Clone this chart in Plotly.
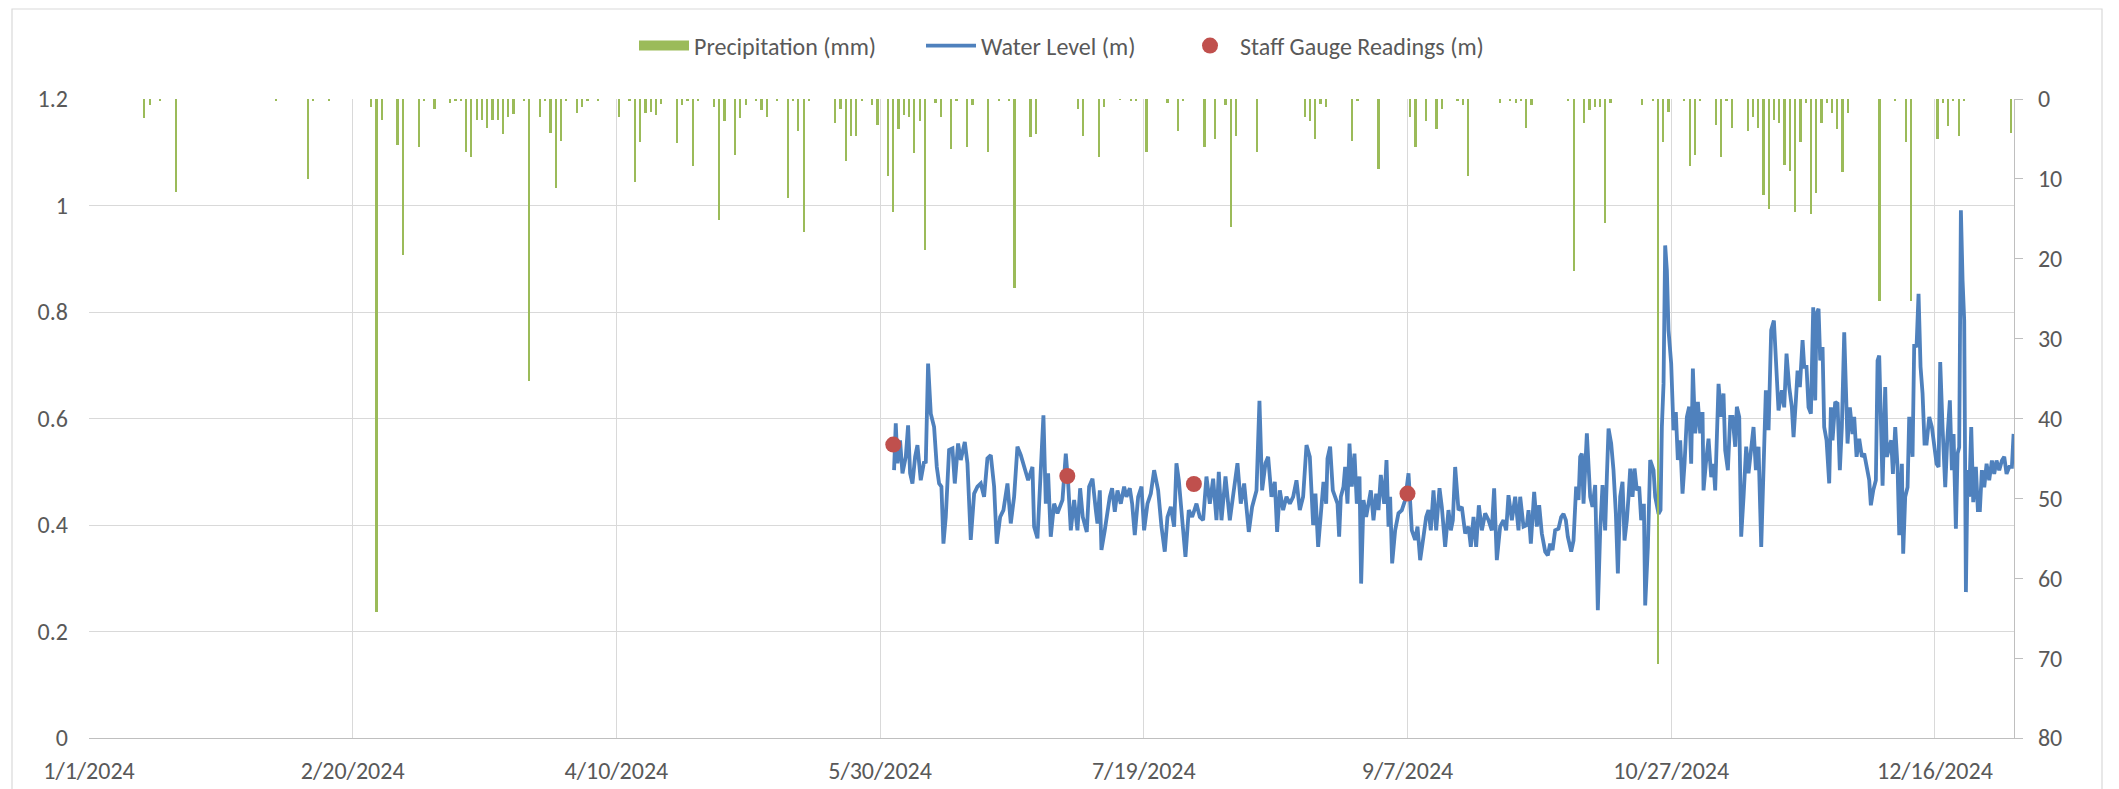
import pandas as pd
import plotly.graph_objects as go

BASE = pd.Timestamp("2024-01-01")

# ---- Daily precipitation (day-of-year offset from 1/1/2024, mm) ----
precip_day = [10, 11, 13, 16, 35, 41, 42, 45, 53, 54, 55, 58, 59, 62, 63, 65, 68, 69, 70, 71,
              72, 73, 74, 75, 76, 77, 78, 79, 80, 82, 83, 85, 86, 87, 88, 89, 90, 92, 93, 94,
              96, 100, 102, 103, 104, 105, 106, 107, 108, 111, 112, 113, 114, 115, 118, 119, 120, 122, 123, 124,
              126, 127, 128, 130, 132, 133, 134, 135, 136, 141, 142, 143, 144, 145, 146, 148, 149, 151, 152, 153,
              154, 155, 156, 157, 158, 160, 161, 163, 164, 166, 167, 170, 172, 174, 175, 178, 179, 187, 188, 191,
              192, 195, 197, 198, 200, 204, 206, 207, 211, 213, 215, 216, 217, 221, 230, 231, 232, 233, 234, 239,
              240, 244, 250, 251, 253, 255, 256, 259, 260, 261, 267, 269, 270, 271, 272, 273, 280, 281, 283, 284,
              285, 286, 287, 288, 294, 296, 297, 298, 299, 302, 303, 304, 305, 308, 309, 310, 311, 314, 315, 316,
              317, 318, 319, 320, 321, 322, 323, 324, 325, 326, 327, 328, 329, 330, 331, 332, 333, 339, 342, 344,
              345, 350, 351, 352, 353, 354, 355, 364]
precip_mm = [2.4, 0.75, 0.2, 11.6, 0.2, 10.0, 0.2, 0.2, 1.0, 64.2, 2.6, 5.8, 19.5, 6.0, 0.2, 1.2, 0.5, 0.2, 0.3, 6.6,
             7.3, 2.6, 2.6, 3.6, 2.6, 2.6, 4.4, 2.2, 1.9, 0.2, 35.3, 2.2, 0.3, 4.2, 11.2, 5.2, 0.2, 1.7, 1.0, 0.2,
             0.2, 2.2, 0.3, 10.4, 5.4, 1.7, 1.6, 2.0, 0.6, 5.5, 0.8, 0.2, 8.4, 0.3, 1.0, 15.2, 2.8, 7.0, 2.4, 0.75,
             0.2, 1.4, 2.2, 0.2, 12.4, 0.2, 4.0, 16.7, 0.2, 3.0, 1.2, 7.75, 4.6, 4.6, 0.2, 0.75, 3.3, 9.6, 14.2, 3.8,
             2.0, 2.2, 6.8, 2.75, 18.9, 0.5, 2.2, 6.2, 0.2, 6.0, 0.75, 6.6, 0.2, 0.2, 23.7, 4.8, 4.4, 1.2, 4.6, 7.2,
             1.0, 0.1, 0.2, 0.3, 6.6, 0.5, 4.0, 0.2, 6.0, 5.0, 0.75, 16.0, 4.6, 6.6, 2.2, 2.75, 5.0, 0.6, 1.0, 5.2,
             0.3, 8.8, 2.2, 6.0, 2.75, 3.8, 1.2, 0.3, 0.75, 9.6, 0.5, 0.2, 0.5, 0.2, 3.6, 0.75, 0.3, 21.5, 3.0, 1.4,
             1.0, 1.0, 15.5, 0.5, 0.75, 0.3, 70.7, 5.4, 1.6, 0.2, 8.4, 7.0, 0.3, 3.2, 7.2, 0.2, 3.6, 4.0, 2.3, 3.6,
             12.0, 13.8, 2.6, 3.0, 8.2, 9.0, 14.2, 5.4, 0.5, 14.4, 11.8, 3.0, 0.5, 1.7, 3.8, 9.2, 1.8, 25.3, 0.2, 5.4,
             25.3, 5.0, 0.5, 3.4, 0.2, 4.6, 0.3, 4.2]

# ---- Water level (fractional day-of-year offset, m) ----
wl_day = [152.65, 152.97, 153.29, 153.79, 154.24, 154.87, 155.31, 155.69, 156.13, 156.64, 157.08, 157.71, 158.34, 158.66,
          159.10, 159.61, 160.24, 160.75, 161.19, 161.63, 162.01, 162.45, 163.08, 163.72, 164.16, 164.79, 165.30, 166.06,
          166.56, 167.19, 167.83, 168.46, 169.09, 169.72, 170.35, 170.99, 171.62, 172.12, 172.76, 173.39, 174.15, 174.78,
          175.41, 176.04, 176.68, 177.43, 178.07, 178.89, 179.20, 179.84, 180.47, 180.97, 181.42, 181.86, 182.36, 183.00,
          183.63, 184.58, 185.21, 185.66, 186.16, 186.79, 187.42, 187.93, 188.43, 189.19, 189.63, 190.27, 190.90,
          191.21, 191.66, 191.97, 192.60, 193.11, 193.55, 193.99, 194.50, 195.01, 195.64, 196.27, 196.71, 197.35, 197.79,
          198.29, 198.93, 199.56, 200.06, 200.70, 201.33, 201.96, 202.72, 203.35, 203.98, 204.49, 205.12, 205.75, 206.19,
          206.64, 207.27, 207.90, 208.53, 209.17, 209.99, 210.62, 211.25, 211.88, 212.52, 213.15, 213.78, 214.22, 214.73,
          215.49, 216.31, 216.94, 217.76, 218.39, 219.03, 219.91, 220.54, 221.37, 221.93, 222.44, 223.07, 223.58, 224.21,
          224.84, 225.28, 225.79, 226.42, 227.05, 227.69, 228.32, 228.95, 229.58, 230.21, 230.85, 231.48, 232.11, 232.55,
          233.06,
          233.75, 234.07, 234.58, 234.83, 235.33, 235.84, 236.28, 236.73, 237.04, 237.36, 237.86, 238.18, 238.62, 239.00,
          239.44, 239.95, 240.39, 240.90, 241.21, 241.66, 242.16, 242.60, 243.05, 243.55, 244.06, 244.50, 244.94, 245.58,
          246.02, 246.40, 246.71, 247.09, 247.66, 248.29, 248.93, 249.56, 250.19, 250.82, 251.45, 251.90, 252.40, 253.03,
          253.54, 253.98, 254.42, 254.93, 255.44, 256.07, 256.51, 257.14, 257.77, 258.22, 258.60, 259.04, 259.67, 260.30,
          260.94, 261.57, 262.01, 262.52, 263.02, 263.53, 264.10, 264.73, 265.36, 265.99, 266.43, 266.94, 267.57, 268.20,
          268.71, 269.15, 269.79, 270.42, 271.05, 271.37, 272.00, 272.63, 272.95, 273.39, 274.02, 274.53, 274.97, 275.47,
          276.11,
          276.61, 277.05, 277.50, 278.00, 278.63, 279.14, 279.58, 280.03, 280.40, 281.04, 281.48, 281.98, 282.43, 282.74,
          283.06, 283.38, 284.01, 284.32, 284.64, 285.08, 285.59, 286.09, 286.54, 286.98, 287.48, 287.80, 288.12, 288.62,
          289.06, 289.51, 289.89, 290.33, 290.77, 291.15, 291.59, 291.91, 292.23, 292.67, 293.05, 293.49, 293.93, 294.31,
          294.82, 295.07, 295.58, 296.02, 296.65, 296.97, 297.60, 297.98, 298.23, 298.55, 298.86, 299.18, 299.49, 300.00,
          300.44, 300.88, 301.26, 301.71, 302.15, 302.53, 302.97, 303.41, 303.79, 304.11, 304.55, 305.06, 305.50, 305.94,
          306.13, 306.57, 307.08, 307.59, 308.03, 308.34, 308.98, 309.48, 309.92, 310.24, 310.75, 311.19, 311.63, 312.14,
          312.45, 312.90, 313.27, 313.72, 314.22, 314.66, 315.17, 315.61, 316.06, 316.56, 317.07, 317.51, 317.95, 318.46,
          318.96, 319.47, 319.85, 320.35,
          320.99, 321.43, 321.87, 322.38, 322.88, 323.20, 323.64, 323.96, 324.40, 324.91, 325.22, 325.66, 326.04, 326.49,
          326.93, 327.31, 327.56, 327.94, 328.26, 328.70, 329.01, 329.46, 329.96, 330.28, 330.59, 331.10, 331.54, 331.98,
          332.36, 332.81, 333.12, 333.44, 333.88, 334.39, 334.70, 335.15, 335.65, 336.16, 336.60, 337.04, 337.55, 337.86,
          338.31, 338.81, 339.13, 339.44, 339.76, 340.08, 340.58, 340.90, 341.34, 341.72, 342.04, 342.48, 342.92, 343.24,
          343.74, 343.99, 344.37, 344.82, 345.13, 345.51, 345.76, 346.08, 346.52, 346.90, 347.28, 347.66, 348.04, 348.42,
          348.93, 349.43, 349.87, 350.32, 350.70, 351.01, 351.45, 351.96, 352.34, 352.84, 353.22, 353.54, 353.98, 354.30,
          354.61, 354.93, 355.25, 355.56, 355.88, 356.19, 356.51, 356.89, 357.27, 357.77, 358.15, 358.53, 358.91, 359.36,
          359.80, 360.30, 360.81, 361.25, 361.69, 362.20, 362.71, 363.15, 363.59, 364.10, 364.60, 364.92]
wl_m = [0.503, 0.591, 0.516, 0.559, 0.497, 0.528, 0.587, 0.497, 0.478, 0.528, 0.550, 0.484, 0.519, 0.516,
        0.703, 0.609, 0.584, 0.509, 0.478, 0.472, 0.365, 0.415, 0.541, 0.544, 0.478, 0.553, 0.522, 0.556,
        0.516, 0.372, 0.459, 0.472, 0.478, 0.453, 0.525, 0.531, 0.472, 0.365, 0.415, 0.428, 0.478, 0.403,
        0.453, 0.547, 0.531, 0.503, 0.484, 0.509, 0.397, 0.375, 0.509, 0.606, 0.440, 0.497, 0.378, 0.440,
        0.422, 0.447, 0.534, 0.478, 0.390, 0.447, 0.390, 0.469, 0.415, 0.387, 0.472, 0.487, 0.428,
        0.403, 0.465, 0.353, 0.390, 0.428, 0.453, 0.469, 0.425, 0.465, 0.440, 0.472, 0.453, 0.469, 0.440,
        0.381, 0.453, 0.472, 0.390, 0.440, 0.459, 0.503, 0.465, 0.397, 0.350, 0.415, 0.434, 0.397, 0.516,
        0.484, 0.415, 0.340, 0.428, 0.415, 0.440, 0.415, 0.409, 0.491, 0.440, 0.487, 0.409, 0.500, 0.409,
        0.491, 0.409, 0.453, 0.516, 0.440, 0.478, 0.387, 0.434, 0.465, 0.633, 0.465, 0.516, 0.528, 0.453,
        0.481, 0.387, 0.465, 0.428, 0.453, 0.440, 0.453, 0.484, 0.428, 0.453, 0.550, 0.528, 0.400, 0.459,
        0.359,
        0.440, 0.481, 0.440, 0.525, 0.547, 0.465, 0.453, 0.440, 0.378, 0.453, 0.472, 0.509, 0.440, 0.553,
        0.472, 0.534, 0.440, 0.491, 0.290, 0.447, 0.415, 0.440, 0.465, 0.409, 0.459, 0.428, 0.494, 0.440,
        0.522, 0.397, 0.453, 0.328, 0.390, 0.422, 0.428, 0.447, 0.497, 0.390, 0.372, 0.397, 0.334, 0.378,
        0.415, 0.428, 0.390, 0.465, 0.390, 0.469, 0.434, 0.359, 0.428, 0.390, 0.409, 0.509, 0.428, 0.434,
        0.384, 0.397, 0.359, 0.415, 0.359, 0.437, 0.390, 0.422, 0.409, 0.390, 0.469, 0.334, 0.397, 0.409,
        0.390, 0.456, 0.409, 0.453, 0.390, 0.453, 0.397, 0.400, 0.428, 0.365, 0.462, 0.397, 0.437, 0.384,
        0.350,
        0.343, 0.365, 0.353, 0.390, 0.393, 0.415, 0.421, 0.409, 0.378, 0.350, 0.371, 0.472, 0.447, 0.528,
        0.534, 0.440, 0.572, 0.503, 0.453, 0.434, 0.475, 0.240, 0.390, 0.475, 0.390, 0.490, 0.581, 0.553,
        0.503, 0.421, 0.309, 0.453, 0.481, 0.371, 0.409, 0.453, 0.506, 0.453, 0.506, 0.465, 0.472, 0.409,
        0.440, 0.249, 0.359, 0.522, 0.503, 0.453, 0.421, 0.428, 0.584, 0.665, 0.925, 0.878, 0.766, 0.703,
        0.578, 0.612, 0.522, 0.559, 0.459, 0.515, 0.603, 0.622, 0.515, 0.694, 0.572, 0.631, 0.572, 0.612,
        0.465, 0.515, 0.562, 0.490, 0.515, 0.465, 0.665, 0.603, 0.647, 0.540, 0.503, 0.603, 0.603, 0.547,
        0.622, 0.603, 0.378, 0.453, 0.547, 0.497, 0.553, 0.584, 0.503, 0.547, 0.359, 0.515, 0.653, 0.578,
        0.766, 0.784, 0.703, 0.615,
        0.653, 0.621, 0.722, 0.659, 0.621, 0.565, 0.634, 0.690, 0.659, 0.747, 0.697, 0.697, 0.621, 0.609,
        0.809, 0.634, 0.797, 0.806, 0.709, 0.734, 0.584, 0.559, 0.478, 0.621, 0.559, 0.631, 0.628, 0.503,
        0.584, 0.762, 0.659, 0.553, 0.621, 0.571, 0.603, 0.528, 0.562, 0.528, 0.534, 0.509, 0.484, 0.437,
        0.465, 0.484, 0.709, 0.718, 0.621, 0.474, 0.659, 0.528, 0.546, 0.559, 0.496, 0.584, 0.509, 0.381,
        0.515, 0.346, 0.453, 0.471, 0.603, 0.546, 0.528, 0.740, 0.734, 0.834, 0.697, 0.647, 0.553, 0.553,
        0.603, 0.584, 0.546, 0.515, 0.509, 0.706, 0.584, 0.471, 0.559, 0.634, 0.503, 0.571, 0.393, 0.534,
        0.546, 0.991, 0.859, 0.784, 0.274, 0.503, 0.453, 0.584, 0.443, 0.509, 0.428, 0.428, 0.503, 0.471,
        0.515, 0.484, 0.521, 0.496, 0.521, 0.503, 0.521, 0.528, 0.496, 0.509, 0.509, 0.571]

# ---- Staff gauge readings ----
gauge_dates = ["2024-06-01 12:00", "2024-07-04 12:00", "2024-07-28 12:00", "2024-09-07 00:00"]
gauge_m = [0.551, 0.492, 0.477, 0.459]

# ---- Axis ticks ----
x_tick_dates = ["2024-01-01", "2024-02-20", "2024-04-10", "2024-05-30",
                "2024-07-19", "2024-09-07", "2024-10-27", "2024-12-16"]
x_tick_labels = ["1/1/2024", "2/20/2024", "4/10/2024", "5/30/2024",
                 "7/19/2024", "9/7/2024", "10/27/2024", "12/16/2024"]
x_range = ["2024-01-01", "2024-12-31"]
y_left_ticks = [0, 0.2, 0.4, 0.6, 0.8, 1.0, 1.2]
y_left_labels = ["0", "0.2", "0.4", "0.6", "0.8", "1", "1.2"]
y_right_ticks = [0, 10, 20, 30, 40, 50, 60, 70, 80]

# ---- Build figure ----
precip_x = BASE + pd.to_timedelta(precip_day, unit="D") + pd.Timedelta(hours=12)
wl_x = BASE + pd.to_timedelta(wl_day, unit="D")
gauge_x = pd.to_datetime(gauge_dates)

FONT = "Calibri, Carlito, Lato, sans-serif"
FS = 24
TXT = "#595959"
GRID = "#d9d9d9"
AXIS = "#bfbfbf"
GREEN = "#9bbb59"

fig = go.Figure()
fig.add_trace(go.Bar(
    x=precip_x, y=precip_mm, yaxis="y2", name="Precipitation (mm)",
    marker=dict(color=GREEN, line=dict(width=0)),
    width=0.42 * 86400000, showlegend=False, legendgroup="p",
))
# legend swatch for precipitation (wide rectangle, like the original legend)
fig.add_trace(go.Scatter(
    x=[None], y=[None], mode="lines", name="Precipitation (mm)", legendgroup="p",
    line=dict(color=GREEN, width=14), legend="legend",
))
fig.add_trace(go.Scatter(
    x=wl_x, y=wl_m, mode="lines", name="Water Level (m)",
    line=dict(color="#4f81bd", width=3.8), legend="legend2",
))
fig.add_trace(go.Scatter(
    x=gauge_x, y=gauge_m, mode="markers", name="Staff Gauge Readings (m)",
    marker=dict(color="#c0504d", size=16, line=dict(width=0)), legend="legend3",
))

# page has an 8px body margin; figure is sized so the plot area lands at
# x 89..2014, y 99..738 of the 2119x789 window
OFF = 8
W, H = 2119 - OFF, 789 - OFF
PL, PR, PT, PB = 89, 2014, 99, 738
L, T = PL - OFF, PT - OFF
R = W - (PR - OFF)
B = H - (PB - OFF)
pw, ph = PR - PL, PB - PT

def px_x(px):
    return (px - PL) / pw

def px_y(py):
    return (PB - py) / ph

def leg(x_px):
    return dict(
        orientation="h", x=px_x(x_px), xanchor="left", y=px_y(46), yanchor="middle",
        font=dict(family=FONT, size=FS, color=TXT), itemwidth=50,
        bgcolor="rgba(0,0,0,0)",
    )

fig.update_layout(
    width=W, height=H,
    margin=dict(l=L, r=R, t=T, b=B, autoexpand=False),
    paper_bgcolor="white", plot_bgcolor="white",
    font=dict(family=FONT, size=FS, color=TXT),
    showlegend=True,
    legend=leg(634), legend2=leg(921), legend3=leg(1180),
    xaxis=dict(
        type="date", range=x_range,
        tickmode="array", tickvals=x_tick_dates, ticktext=x_tick_labels,
        showgrid=True, gridcolor=GRID, gridwidth=1.3,
        showline=True, linecolor=AXIS, linewidth=1.3,
        ticks="", ticklabelstandoff=11, zeroline=False,
        tickfont=dict(family=FONT, size=FS, color=TXT),
    ),
    yaxis=dict(
        range=[0, 1.2], tickmode="array", tickvals=y_left_ticks, ticktext=y_left_labels,
        showgrid=True, gridcolor=GRID, gridwidth=1.3, zeroline=False,
        showline=False, ticks="", ticklabelstandoff=20,
        tickfont=dict(family=FONT, size=FS, color=TXT),
    ),
    yaxis2=dict(
        overlaying="y", side="right", range=[80, 0],
        tickmode="array", tickvals=y_right_ticks,
        showgrid=False, zeroline=False,
        showline=True, linecolor=AXIS, linewidth=1.3,
        ticks="outside", ticklen=8, tickcolor=AXIS, tickwidth=1.3,
        ticklabelstandoff=10,
        tickfont=dict(family=FONT, size=FS, color=TXT),
    ),
    bargap=0,
    shapes=[dict(
        type="rect", xref="paper", yref="paper",
        x0=px_x(12), x1=px_x(2102), y0=px_y(820), y1=px_y(9),
        line=dict(color=GRID, width=1.2), fillcolor="rgba(0,0,0,0)", layer="below",
    )],
)

fig.write_html("out.html")
